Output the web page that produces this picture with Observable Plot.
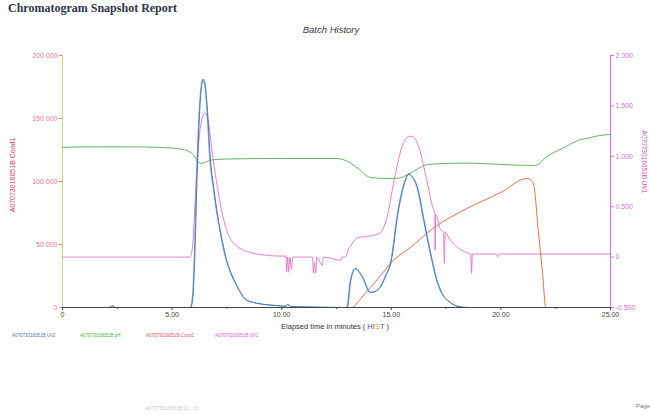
<!DOCTYPE html>
<html><head><meta charset="utf-8">
<script src="https://cdn.jsdelivr.net/npm/d3@7"></script>
<script src="https://cdn.jsdelivr.net/npm/@observablehq/plot@0.6"></script>
<style>
body{margin:0;background:#fff;width:650px;height:415px;overflow:hidden;position:relative;font-family:"Liberation Sans",Arial,sans-serif}
.abs{position:absolute;white-space:nowrap}
#title{left:8px;top:1px;font:bold 12px "Liberation Serif",serif;color:#2e3548}
#sub{left:0;width:662px;top:24px;text-align:center;font:italic 9.5px "Liberation Sans",sans-serif;color:#3a3a3a}
#chart{position:absolute;left:0;top:0}
#xlab{left:0;width:670px;top:322px;text-align:center;font:7.5px "Liberation Sans",sans-serif;color:#333}
#ylab{left:12px;top:175px;transform:translate(-50%,-50%) rotate(-90deg);font:7px "Liberation Sans",sans-serif;color:#d03a55}
#y2lab{left:644px;top:162px;transform:translate(-50%,-50%) rotate(90deg);font:6.5px "Liberation Sans",sans-serif;color:#c850c0}
.leg{top:333px;font:4.5px "Liberation Sans",sans-serif}
#foot{left:145px;top:405px;font:5px "Liberation Sans",sans-serif;color:#c8c8c8}
#page{left:636px;top:403px;font:6px "Liberation Sans",sans-serif;color:#777}
</style></head>
<body>
<div id="chart"></div>
<div class="abs" id="title">Chromatogram Snapshot Report</div>
<div class="abs" id="sub">Batch History</div>
<div class="abs" id="xlab">Elapsed time in minutes ( <span style="color:#3355cc">H</span><span style="color:#cc3344">I</span><span style="color:#e0a020">S</span><span style="color:#3355cc">T</span> )</div>
<div class="abs" id="ylab">A07073016051B Cond1</div>
<div class="abs" id="y2lab">A07073016051B UV1</div>
<div id="legend"></div>
<div class="abs" id="foot">A07073016051B 01 : 01</div>
<div class="abs" id="page">Page</div>
<script>
// ---- data ----
const blueT = [0,2.2,2.3,2.4,5.85,5.95,6.03,6.14,6.26,6.35,6.42,6.5,6.6,6.75,6.9,7.1,7.3,7.5,7.75,8.0,8.4,9.0,9.8,10.2,10.3,10.4,12.9,13.0,13.15,13.37,13.55,13.7,14.05,14.3,14.5,14.75,15.0,15.3,15.5,15.65,15.8,15.95,16.2,16.5,16.8,17.1,17.3,17.7,18.15,18.5,25];
const blueV = [0,0,1500,0,0,8000,37000,103000,156000,176000,181000,178000,160000,117000,95000,71000,52000,37000,25000,16000,6000,3000,1500,1000,2500,800,0,500,21000,31000,28000,24000,12000,13000,16000,25000,37000,74000,92000,101000,106000,104000,95000,69000,43000,21000,12000,4000,500,0,0];

const greenT = [0,1,3,4.5,5.5,6.0,6.2,6.35,6.6,7.0,8,10,12.5,13,13.5,14.05,14.8,15.3,15.8,16.2,16.65,17.5,18.5,20,21.5,21.7,22.0,22.3,22.6,23,23.5,24,24.5,25];
const greenV = [127000,127500,127500,127000,125500,120600,115100,114300,116000,117500,118000,118300,118300,116000,110000,103200,102400,102600,106000,110000,113500,114300,114600,113500,112700,113500,118500,122000,124600,128000,132500,134500,136500,137300];

const redT = [0,2.1,2.2,2.3,13.2,13.6,14.05,14.5,15,15.9,16.9,18.45,20,21.2,21.35,21.5,21.7,21.9,22.05,25];
const redV = [0,0,1200,0,0,7000,15900,25000,35700,48000,62700,78600,91300,102400,101500,97000,62000,27000,0,0];

const pinkT = [0,5.8,5.85,5.95,6.05,6.15,6.3,6.5,6.65,6.85,7.07,7.3,7.5,7.8,8.1,8.5,9.0,10.0,10.2,10.22,10.27,10.32,10.37,10.45,10.5,11.4,11.45,11.5,11.55,11.6,11.85,11.9,12.7,12.75,12.9,13.05,13.2,13.45,14.05,14.4,14.6,14.8,15.1,15.4,15.65,15.9,16.1,16.3,16.6,16.9,16.98,17.0,17.03,17.25,17.38,17.42,17.46,17.6,17.85,18.2,18.5,18.62,18.66,18.7,19.8,19.85,19.9,25];
const pinkV = [0,0,0.01,0.15,0.55,0.95,1.3,1.43,1.35,1.0,0.69,0.42,0.26,0.14,0.085,0.05,0.026,0.01,0.01,-0.15,0,-0.15,0,-0.12,0,0,-0.16,-0.05,-0.16,0,-0.08,0,-0.03,0,0,0.08,0.13,0.19,0.21,0.23,0.27,0.39,0.73,1.03,1.17,1.2,1.17,1.06,0.78,0.49,0.44,0.07,0.42,0.27,0.25,-0.06,0.25,0.2,0.13,0.07,0.04,0.03,-0.16,0.03,0.03,0.0,0.03,0.03];

const xTicks = [0,5,10,15,20,25];
const xTickLabels = ["0","5.00","10.00","15.00","20.00","25.00"];
const xMinor = [2.5,7.5,12.5,17.5,22.5];
const leftTicks = [0,50000,100000,150000,200000];
const leftTickLabels = ["0","50 000","100 000","150 000","200 000"];
const rightTicks = [-0.5,0,0.5,1.0,1.5,2.0];
const rightTickLabels = ["-0.500","0","0.500","1.000","1.500","2.000"];
const legendLabels = ["A07073016051B UV2","A07073016051B pH","A07073016051B Cond1","A07073016051B UV1"];
const legendColors = ["#5a6fa8","#4caa4c","#e0505a","#d860c8"];
const legendX = [12,80,146,215];

// right axis (UV1) maps onto the left-axis range: -0.5 -> 0, 2.0 -> 200000
const toLeft = r => (r + 0.5) * 80000;

const plot = Plot.plot({
  width: 650, height: 345,
  marginTop: 55, marginBottom: 38, marginLeft: 62, marginRight: 40,
  x: {domain: [0, 25]},
  y: {domain: [0, 200000]},
  style: {fontFamily: "Liberation Sans, Arial, sans-serif", fontSize: "7px", background: "transparent", overflow: "visible"},
  marks: [
    Plot.axisX({ticks: xTicks, tickFormat: (d, i) => xTickLabels[i], tickSize: 3, tickPadding: 2, color: "#444", label: null}),
    Plot.axisX({ticks: xMinor, tickSize: 2, tickFormat: () => "", color: "#555", label: null}),
    Plot.axisY({ticks: leftTicks, tickFormat: (d, i) => leftTickLabels[i], tickSize: 3, tickPadding: 2, color: "#e07a92", label: null}),
    Plot.axisY({anchor: "right", ticks: rightTicks.map(toLeft), tickFormat: (d, i) => rightTickLabels[i], tickSize: 3, tickPadding: 2, color: "#d070c8", label: null}),
    Plot.ruleX([0], {stroke: "#cfd67a", strokeWidth: 1}),
    Plot.ruleX([25], {stroke: "#d870d0", strokeWidth: 1}),
    Plot.line(greenT.map((t, i) => ({t, v: greenV[i]})), {x: "t", y: "v", stroke: "#55a855", strokeWidth: 0.9, curve: "monotone-x"}),
    Plot.line(redT.map((t, i) => ({t, v: redV[i]})), {x: "t", y: "v", stroke: "#e06040", strokeWidth: 0.9, curve: "monotone-x"}),
    Plot.line(pinkT.map((t, i) => ({t, v: toLeft(pinkV[i])})), {x: "t", y: "v", stroke: "#e070c8", strokeWidth: 0.9, curve: "monotone-x"}),
    Plot.line(blueT.map((t, i) => ({t, v: blueV[i]})), {x: "t", y: "v", stroke: "#4aa8c8", strokeWidth: 0.9, curve: "monotone-x", dx: -0.6}),
    Plot.line(blueT.map((t, i) => ({t, v: blueV[i]})), {x: "t", y: "v", stroke: "#5565b0", strokeWidth: 0.9, curve: "monotone-x"}),
    Plot.ruleY([0], {stroke: "#444", strokeWidth: 1})
  ]
});
document.getElementById("chart").appendChild(plot);

const leg = document.getElementById("legend");
legendLabels.forEach((s, i) => {
  const d = document.createElement("div");
  d.className = "abs leg";
  d.style.left = legendX[i] + "px";
  d.style.color = legendColors[i];
  d.textContent = s;
  leg.appendChild(d);
});
</script>
</body></html>
